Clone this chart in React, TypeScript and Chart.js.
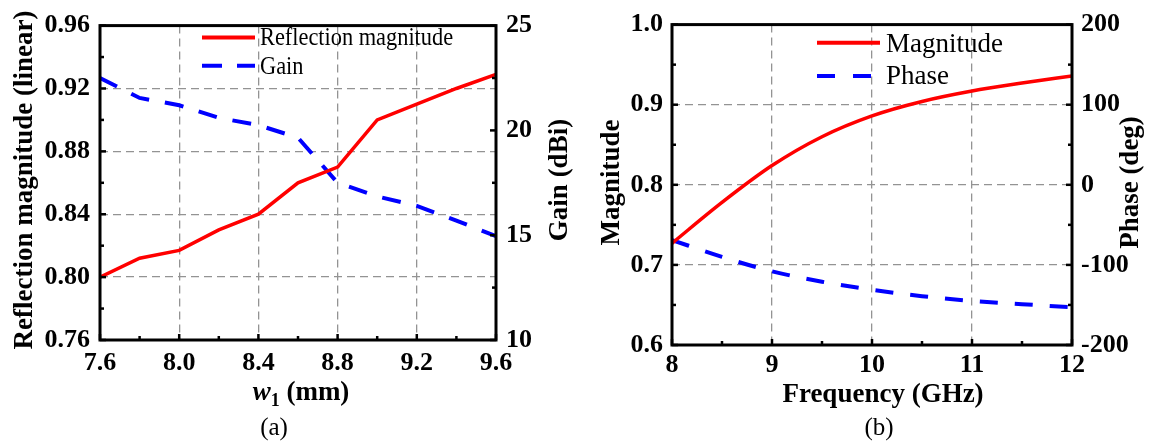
import { useEffect, useRef } from 'react';
import { Chart, registerables } from 'chart.js';

Chart.register(...registerables);

const FONT = "'Liberation Serif', 'Times New Roman', serif";

// ---------- Panel (a) data ----------
const w1Values = [7.6, 7.8, 8.0, 8.2, 8.4, 8.6, 8.8, 9.0, 9.2, 9.4, 9.6];
const reflectionMagnitude = [0.8, 0.812, 0.817, 0.83, 0.84, 0.86, 0.87, 0.9, 0.91, 0.92, 0.929];
const gainDbi = [22.5, 21.55, 21.2, 20.6, 20.25, 19.65, 17.5, 16.85, 16.4, 15.7, 14.95];
const aXMinor = [7.8, 8.2, 8.6, 9.0, 9.4];
const aYMinor = [0.78, 0.82, 0.86, 0.9, 0.94];
const aY1Minor = [12.5, 17.5, 22.5];

// ---------- Panel (b) data ----------
const freqGHz = [8, 8.5, 9, 9.5, 10, 10.5, 11, 11.5, 12];
const magnitude = [0.727, 0.778, 0.824, 0.86, 0.886, 0.904, 0.917, 0.927, 0.936];
const phaseDeg = [-69, -90, -108, -121, -131, -139, -145, -149, -153];
const bXMinor = [8.5, 9.5, 10.5, 11.5];
const bYMinor = [0.65, 0.75, 0.85, 0.95];
const bY1Minor = [-150, -50, 50, 150];

type LegendItem = { label: string; color: string; dash: number[]; lineY: number; textY: number };
type Decor = {
  xMinor: number[];
  yMinor: number[];
  y1Minor: number[];
  leftTitle: { text: string; x: number; y: number };
  rightTitle: { text: string; x: number; y: number };
  xTitle: { parts: { text: string; style: string; size: number; dy: number }[]; cx: number; y: number };
  caption: { text: string; cx: number; y: number };
  legend: { x1: number; x2: number; textX: number; size: number; sx: number; items: LegendItem[] };
};

const makePlugin = (d: Decor) => ({
  id: 'decor',
  afterDraw(chart: any) {
    const { ctx, chartArea: a, scales } = chart;
    ctx.save();
    const seg = (x1: number, y1: number, x2: number, y2: number) => {
      ctx.beginPath();
      ctx.moveTo(x1, y1);
      ctx.lineTo(x2, y2);
      ctx.stroke();
    };
    // inward ticks
    ctx.strokeStyle = '#000';
    ctx.lineWidth = 2.5;
    ctx.setLineDash([]);
    const MAJ = 6;
    const MIN = 4;
    scales.x.ticks.forEach((t: any) => {
      const p = scales.x.getPixelForValue(t.value);
      seg(p, a.bottom, p, a.bottom - MAJ);
    });
    d.xMinor.forEach((v) => {
      const p = scales.x.getPixelForValue(v);
      seg(p, a.bottom, p, a.bottom - MIN);
    });
    scales.y.ticks.forEach((t: any) => {
      const p = scales.y.getPixelForValue(t.value);
      seg(a.left, p, a.left + MAJ, p);
    });
    d.yMinor.forEach((v) => {
      const p = scales.y.getPixelForValue(v);
      seg(a.left, p, a.left + MIN, p);
    });
    scales.y1.ticks.forEach((t: any) => {
      const p = scales.y1.getPixelForValue(t.value);
      seg(a.right, p, a.right - MAJ, p);
    });
    d.y1Minor.forEach((v) => {
      const p = scales.y1.getPixelForValue(v);
      seg(a.right, p, a.right - MIN, p);
    });
    // frame
    ctx.lineWidth = 3;
    ctx.strokeRect(a.left, a.top, a.right - a.left, a.bottom - a.top);

    // axis titles (vertical, reading bottom-to-top)
    ctx.fillStyle = '#000';
    ctx.font = `bold 27px ${FONT}`;
    ctx.textAlign = 'center';
    ctx.textBaseline = 'alphabetic';
    [d.leftTitle, d.rightTitle].forEach((t) => {
      ctx.save();
      ctx.translate(t.x, t.y);
      ctx.rotate(-Math.PI / 2);
      ctx.fillText(t.text, 0, 0);
      ctx.restore();
    });

    // x title with parts
    ctx.textAlign = 'left';
    let total = 0;
    d.xTitle.parts.forEach((p) => {
      ctx.font = `${p.style} ${p.size}px ${FONT}`;
      total += ctx.measureText(p.text).width;
    });
    let x = d.xTitle.cx - total / 2;
    d.xTitle.parts.forEach((p) => {
      ctx.font = `${p.style} ${p.size}px ${FONT}`;
      ctx.fillText(p.text, x, d.xTitle.y + p.dy);
      x += ctx.measureText(p.text).width;
    });

    // caption
    ctx.font = `25px ${FONT}`;
    ctx.textAlign = 'center';
    ctx.fillText(d.caption.text, d.caption.cx, d.caption.y);

    // legend
    const L = d.legend;
    L.items.forEach((it) => {
      ctx.strokeStyle = it.color;
      ctx.lineWidth = 4;
      ctx.setLineDash(it.dash);
      seg(L.x1, it.lineY, L.x2, it.lineY);
      ctx.setLineDash([]);
      ctx.fillStyle = '#000';
      ctx.font = `${L.size}px ${FONT}`;
      ctx.textAlign = 'left';
      ctx.save();
      ctx.translate(L.textX, it.textY);
      ctx.scale(L.sx, 1);
      ctx.fillText(it.label, 0, 0);
      ctx.restore();
    });
    ctx.restore();
  },
});

const tickFont = { family: FONT, size: 26, weight: 'bold' as const };

function buildConfig(opts: {
  datasets: any[];
  xMin: number; xMax: number; xStep: number; xDec: number;
  yMin: number; yMax: number; yStep: number; yDec: number;
  y1Min: number; y1Max: number; y1Step: number;
  yW: number; y1W: number; xH: number; xPad: number; yPad: number;
  decor: Decor;
}) {
  const gridOpts = { color: '#939393', lineWidth: 1.3, drawTicks: false };
  const borderOpts = { display: false, dash: [8, 5] };
  return {
    type: 'line',
    data: { datasets: opts.datasets },
    options: {
      animation: false,
      responsive: false,
      maintainAspectRatio: false,
      layout: { padding: { top: 20, left: 0, right: 0, bottom: 0 } },
      plugins: { legend: { display: false }, tooltip: { enabled: false } },
      scales: {
        x: {
          type: 'linear',
          min: opts.xMin,
          max: opts.xMax,
          ticks: {
            stepSize: opts.xStep,
            font: tickFont,
            color: '#000',
            padding: opts.xPad,
            maxRotation: 0,
            autoSkip: false,
            callback: (v: number) => Number(v).toFixed(opts.xDec),
          },
          grid: gridOpts,
          border: borderOpts,
          afterFit: (s: any) => { s.height = opts.xH; },
        },
        y: {
          type: 'linear',
          position: 'left',
          min: opts.yMin,
          max: opts.yMax,
          ticks: {
            stepSize: opts.yStep,
            font: tickFont,
            color: '#000',
            padding: opts.yPad,
            callback: (v: number) => Number(v).toFixed(opts.yDec),
          },
          grid: gridOpts,
          border: borderOpts,
          afterFit: (s: any) => { s.width = opts.yW; },
        },
        y1: {
          type: 'linear',
          position: 'right',
          min: opts.y1Min,
          max: opts.y1Max,
          ticks: {
            stepSize: opts.y1Step,
            font: tickFont,
            color: '#000',
            padding: opts.yPad,
            callback: (v: number) => String(Math.round(v)),
          },
          grid: { display: false, drawTicks: false },
          border: { display: false },
          afterFit: (s: any) => { s.width = opts.y1W; },
        },
      },
    },
    plugins: [makePlugin(opts.decor)],
  };
}

function Panel({ left, width, config }: { left: number; width: number; config: () => any }) {
  const ref = useRef<HTMLCanvasElement | null>(null);
  useEffect(() => {
    if (!ref.current) return;
    const chart = new Chart(ref.current, config());
    return () => chart.destroy();
  }, []);
  return (
    <canvas
      ref={ref}
      width={width}
      height={443}
      style={{ position: 'absolute', left, top: 0, width, height: 443 }}
    />
  );
}

const configA = () =>
  buildConfig({
    datasets: [
      {
        label: 'Reflection magnitude',
        data: w1Values.map((x, i) => ({ x, y: reflectionMagnitude[i] })),
        yAxisID: 'y',
        borderColor: '#ff0000',
        borderWidth: 3.5,
        pointRadius: 0,
        tension: 0,
      },
      {
        label: 'Gain',
        data: w1Values.map((x, i) => ({ x, y: gainDbi[i] })),
        yAxisID: 'y1',
        borderColor: '#0000ff',
        borderWidth: 4,
        borderDash: [19, 16],
        pointRadius: 0,
        tension: 0,
      },
    ],
    xMin: 7.6, xMax: 9.6, xStep: 0.4, xDec: 1,
    yMin: 0.76, yMax: 0.96, yStep: 0.04, yDec: 2,
    y1Min: 10, y1Max: 25, y1Step: 5,
    yW: 100, y1W: 84, xH: 103, xPad: 8, yPad: 10,
    decor: {
      xMinor: aXMinor,
      yMinor: aYMinor,
      y1Minor: aY1Minor,
      leftTitle: { text: 'Reflection magnitude (linear)', x: 31.5, y: 180 },
      rightTitle: { text: 'Gain (dBi)', x: 567, y: 180 },
      xTitle: {
        parts: [
          { text: 'w', style: 'italic bold', size: 27, dy: 0 },
          { text: '1', style: 'bold', size: 18, dy: 6 },
          { text: ' (mm)', style: 'bold', size: 27, dy: 0 },
        ],
        cx: 301,
        y: 400,
      },
      caption: { text: '(a)', cx: 274, y: 435 },
      legend: {
        x1: 202,
        x2: 255,
        textX: 260,
        size: 26,
        sx: 0.86,
        items: [
          { label: 'Reflection magnitude', color: '#ff0000', dash: [], lineY: 37.5, textY: 45 },
          { label: 'Gain', color: '#0000ff', dash: [20, 15], lineY: 65.7, textY: 73.5 },
        ],
      },
    },
  });

const configB = () =>
  buildConfig({
    datasets: [
      {
        label: 'Magnitude',
        data: freqGHz.map((x, i) => ({ x, y: magnitude[i] })),
        yAxisID: 'y',
        borderColor: '#ff0000',
        borderWidth: 3.5,
        pointRadius: 0,
        cubicInterpolationMode: 'monotone',
      },
      {
        label: 'Phase',
        data: freqGHz.map((x, i) => ({ x, y: phaseDeg[i] })),
        yAxisID: 'y1',
        borderColor: '#0000ff',
        borderWidth: 4,
        borderDash: [18, 17],
        pointRadius: 0,
        cubicInterpolationMode: 'monotone',
      },
    ],
    xMin: 8, xMax: 12, xStep: 1, xDec: 0,
    yMin: 0.6, yMax: 1.0, yStep: 0.1, yDec: 1,
    y1Min: -200, y1Max: 200, y1Step: 100,
    yW: 92, y1W: 87, xH: 98, xPad: 5, yPad: 9,
    decor: {
      xMinor: bXMinor,
      yMinor: bYMinor,
      y1Minor: bY1Minor,
      leftTitle: { text: 'Magnitude', x: 39, y: 182.5 },
      rightTitle: { text: 'Phase (deg)', x: 558, y: 182.5 },
      xTitle: {
        parts: [{ text: 'Frequency (GHz)', style: 'bold', size: 27, dy: 0 }],
        cx: 303,
        y: 402,
      },
      caption: { text: '(b)', cx: 299, y: 435 },
      legend: {
        x1: 237,
        x2: 300,
        textX: 306,
        size: 27,
        sx: 1,
        items: [
          { label: 'Magnitude', color: '#ff0000', dash: [], lineY: 42.7, textY: 52 },
          { label: 'Phase', color: '#0000ff', dash: [18, 18], lineY: 76, textY: 84 },
        ],
      },
    },
  });

export default function App() {
  return (
    <div style={{ position: 'absolute', left: 0, top: 0, width: 1159, height: 443, background: '#fff' }}>
      <Panel left={0} width={580} config={configA} />
      <Panel left={580} width={579} config={configB} />
    </div>
  );
}
